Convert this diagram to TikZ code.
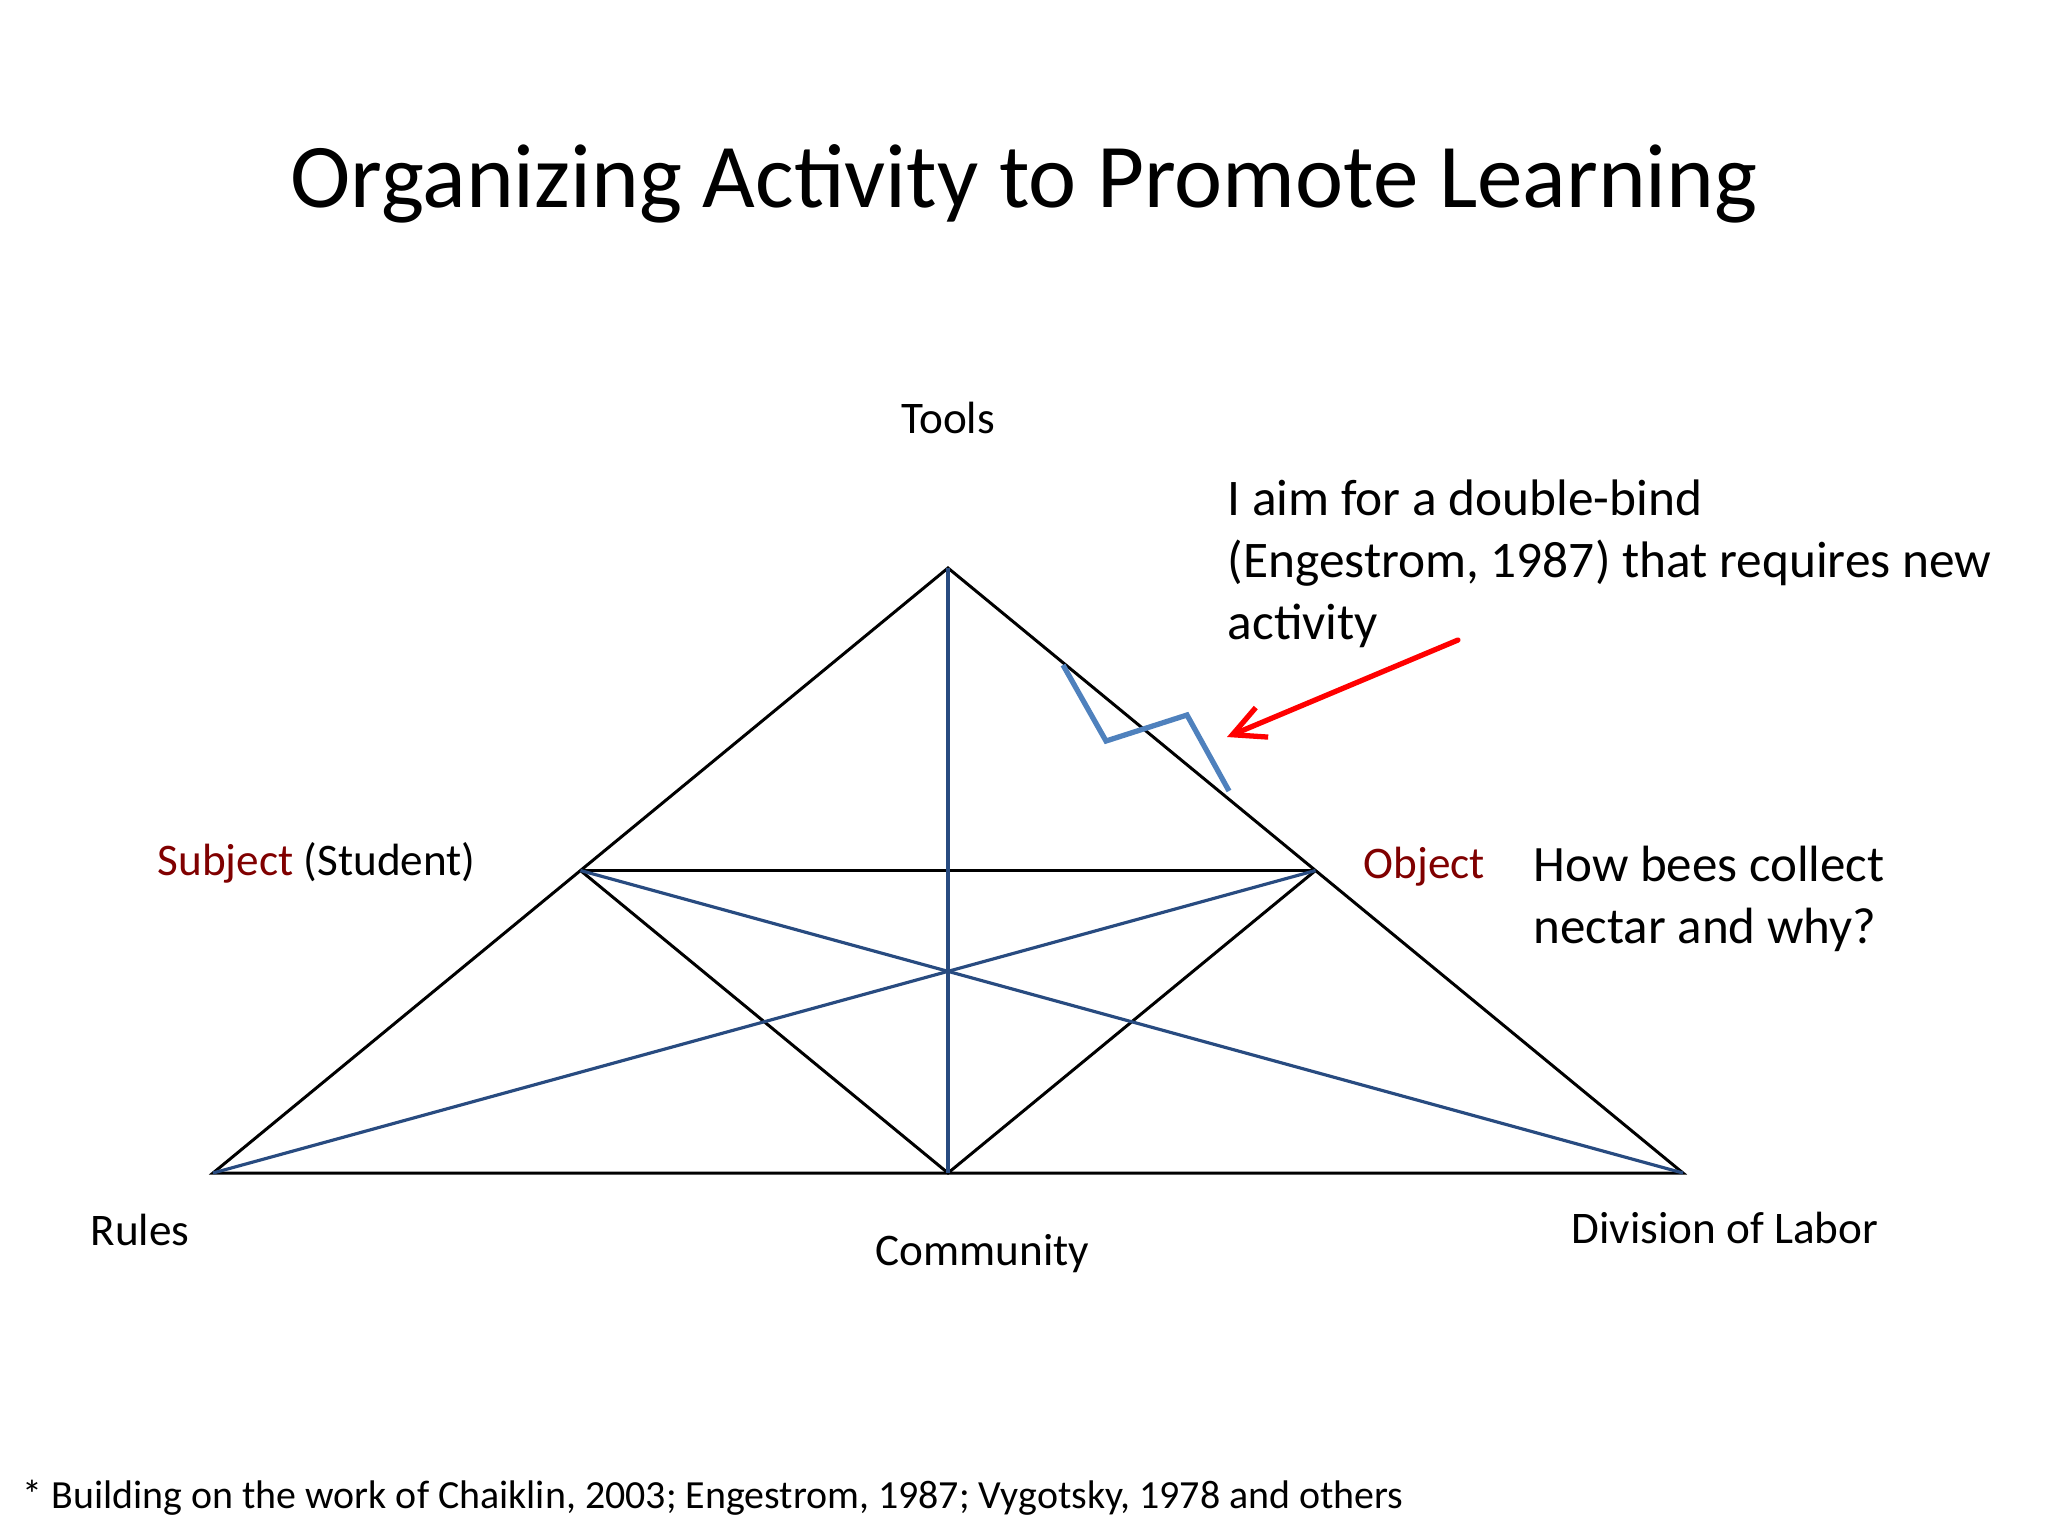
\documentclass[tikz,border=0pt]{standalone}
\usepackage{fontspec}
\setmainfont{Carlito}
\usetikzlibrary{calc}
\usetikzlibrary{arrows.meta}
\definecolor{roleRed}{RGB}{128,0,0}
\definecolor{crossBlue}{RGB}{40,75,128}
\definecolor{boltBlue}{RGB}{79,129,189}

\begin{document}
\begin{tikzpicture}[x=0.01cm, y=-0.01cm,
    edge/.style={line width=0.85pt, black},
    cross/.style={line width=0.9pt, crossBlue},
    lbl/.style={inner sep=0pt, anchor=base west, font=\fontsize{12.85}{15}\selectfont},
    note/.style={inner sep=0pt, anchor=base west, align=left, font=\fontsize{14.6}{17.6}\selectfont}]
    \useasboundingbox (0,0) rectangle (2048,1536);

    % corners of the activity triangle
    \coordinate (T) at (948, 568);   % tools
    \coordinate (R) at (213, 1173);  % rules
    \coordinate (D) at (1683, 1173); % division of labor
    \coordinate (C) at ($(R)!0.5!(D)$);
    \coordinate (S) at ($(T)!0.5!(R)$);
    \coordinate (O) at ($(T)!0.5!(D)$);

    \draw[edge] (T) -- (R) -- (D) -- cycle;
    \draw[edge] (S) -- (O);
    \draw[edge] (S) -- (C) -- (O);
    \draw[cross] (T) -- (C);
    \draw[cross] (S) -- (D);
    \draw[cross] (O) -- (R);

    % the double-bind mark
    \coordinate (Z1) at (1063, 665);
    \coordinate (Z2) at (1106, 741);
    \coordinate (Z3) at (1187, 715);
    \coordinate (Z4) at (1229, 791);
    \draw[boltBlue, line width=1.5pt] (Z1) -- (Z2) -- (Z3) -- (Z4);

    \coordinate (A0) at (1458, 640);
    \coordinate (A1) at (1227, 737);
    \draw[red, line width=1.5pt, line cap=round, -{Straight Barb[length=0.32cm, width=0.32cm]}] (A0) -- (A1);

    \node[inner sep=0pt, anchor=base, font=\fontsize{25.9}{30}\selectfont] (title) at (1024, 207)
        {Organizing Activity to Promote Learning};

    \node[lbl, anchor=base] (tools) at (948, 433) {Tools};
    \node[lbl] (subj) at (157, 875) {\textcolor{roleRed}{Subject} (Student)};
    \node[lbl] (obj) at (1363, 878) {\textcolor{roleRed}{Object}};
    \node[lbl] (rules) at (90, 1245) {Rules};
    \node[lbl] (comm) at (875, 1265) {Community};
    \node[lbl] (labor) at (1571, 1243) {Division of Labor};

    % base of a multi-line node is its last line
    \node[note] (bind) at (1227, 639) {I aim for a double-bind\\(Engestrom, 1987) that requires new\\activity};
    \node[note, font=\fontsize{14.5}{17.4}\selectfont] (goal) at (1533, 943) {How bees collect\\nectar and why?};

    \node[inner sep=0pt, anchor=base west, font=\fontsize{11.35}{13}\selectfont] (cite) at (22, 1508)
        {* Building on the work of Chaiklin, 2003; Engestrom, 1987; Vygotsky, 1978 and others};
\end{tikzpicture}
\end{document}
